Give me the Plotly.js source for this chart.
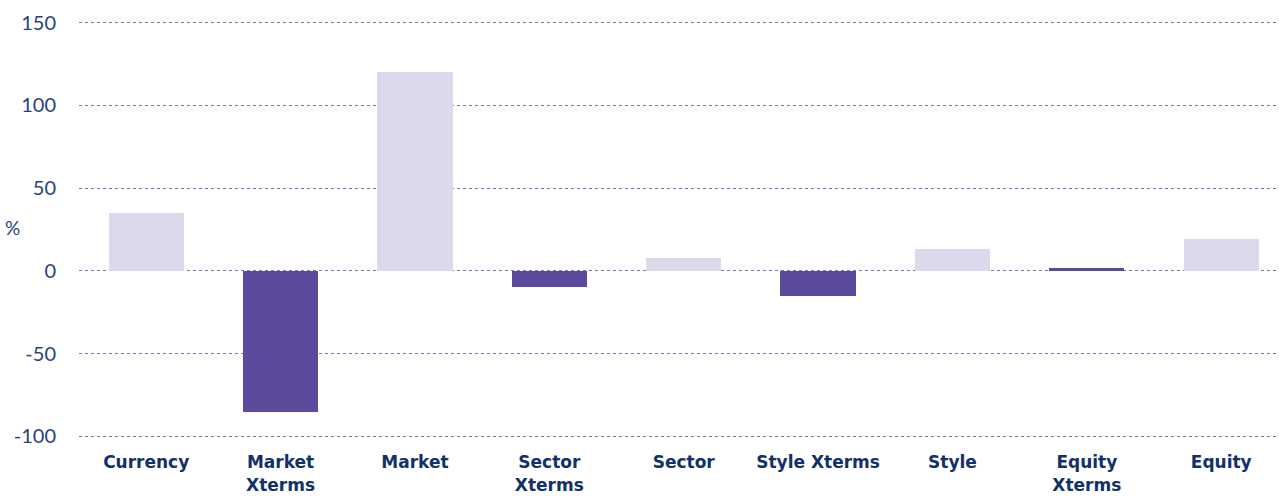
<!DOCTYPE html>
<html><head><meta charset="utf-8">
<script src="https://cdn.plot.ly/plotly-3.0.1.min.js"></script>
<style>html,body{margin:0;padding:0;background:#fff}#chart{width:1279px;height:496px}</style>
</head><body><div id="chart"></div>
<script>
const categories = ["Currency","Market<br>Xterms","Market","Sector<br>Xterms","Sector","Style Xterms","Style","Equity<br>Xterms","Equity"];
const values = [35, -85, 120, -10, 8, -15, 13, 2, 19.5];
const isCross = [false, true, false, true, false, true, false, true, false];
const yTicks = [-100, -50, 0, 50, 100, 150];
const lightColor = "#ddd9ed", darkColor = "#5c4a9c";

const trace = {
  type: "bar",
  x: categories.map((c, i) => i),
  y: values,
  width: 0.56,
  marker: {color: isCross.map(c => c ? darkColor : lightColor)},
  hoverinfo: "skip"
};
const layout = {
  width: 1279, height: 496,
  margin: {l: 79, r: 0, t: 21.35, b: 58.35},
  paper_bgcolor: "#fff", plot_bgcolor: "#fff",
  showlegend: false,
  bargap: 0,
  xaxis: {
    range: [-0.5, 8.43],
    tickmode: "array",
    tickvals: categories.map((c, i) => i),
    ticktext: categories,
    showgrid: false, zeroline: false, showline: false,
    ticks: "outside", ticklen: 9, tickcolor: "rgba(0,0,0,0)",
    tickfont: {family: "'DejaVu Sans', sans-serif", size: 17, color: "#12306a", weight: 700}
  },
  yaxis: {
    range: [-101, 151],
    tickmode: "array",
    tickvals: yTicks,
    ticktext: yTicks.map(String),
    showgrid: true, gridcolor: "#5f7fae", griddash: "dot", gridwidth: 1,
    zeroline: false, showline: false,
    ticks: "outside", ticklen: 18, tickcolor: "rgba(0,0,0,0)",
    tickfont: {family: "Lato, sans-serif", size: 20, color: "#26437c", weight: 400}
  },
  annotations: [{
    text: "%", xref: "paper", yref: "y", x: -0.0555, y: 26,
    xanchor: "center", yanchor: "middle", showarrow: false,
    font: {family: "Lato, sans-serif", size: 19, color: "#26437c", weight: 400}
  }]
};
Plotly.newPlot("chart", [trace], layout, {displayModeBar: false, staticPlot: true});
</script>
</body></html>
